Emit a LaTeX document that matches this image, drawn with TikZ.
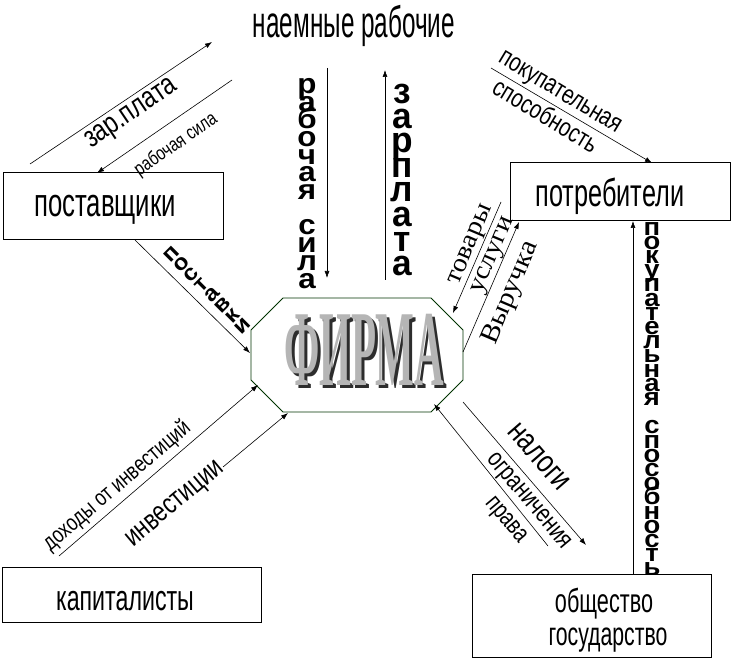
\documentclass[tikz,border=0pt]{standalone}
\usepackage{fontspec}
\usepackage{graphicx}
\usetikzlibrary{arrows.meta}
\setmainfont{Liberation Sans}
\newfontfamily\nb{Liberation Sans}[FakeStretch=0.65]
\newfontfamily\nl{Liberation Sans}[FakeStretch=0.78]
\newfontfamily\ser{Liberation Serif}[FakeStretch=1.08]
\newfontfamily\ff{Liberation Serif Bold}[FakeStretch=0.38]
\newcommand\fs[2]{\fontsize{#1}{#2}\selectfont}
\newcommand\vstk[3]{\scalebox{#1}[1]{\vbox{\baselineskip=#2\relax\lineskiplimit=-1000pt\relax\lineskip=0pt\relax\halign{\hfil##\hfil\cr#3\crcr}}}}
\newcommand\firmword{ФИРМА}
\tikzset{
  arr/.style={draw=black, line width=0.6pt, -{Latex[length=7pt,width=5pt]}},
  box/.style={draw=black, line width=1pt, rectangle, fill=white, inner sep=0pt},
  lbl/.style={inner sep=0pt, anchor=center},
  btext/.style={inner sep=0pt, anchor=base},
  stackcol/.style={inner sep=0pt, anchor=north},
  firmline/.style={draw=black!60!green!50!black, line width=0.8pt, fill=white},
  firmtext/.style={inner sep=0pt, anchor=base, font=\ff\fs{108}{108}},
}
\begin{document}
\begin{tikzpicture}[x=1pt,y=-1pt]
\useasboundingbox (0,0) rectangle (732,658);
\fill[white] (0,0) rectangle (732,658);

% boxes
\node[box, minimum width=220pt, minimum height=67pt] (post) at (113,206.5) {};
\node[btext, font=\nb\fs{39.6}{40}] (postT) at (105,217) {поставщики};
\node[box, minimum width=220pt, minimum height=58pt] (potr) at (620,192) {};
\node[btext, font=\nb\fs{38.9}{40}] (potrT) at (610,207) {потребители};
\node[box, minimum width=259pt, minimum height=55pt] (kap) at (131.5,594.5) {};
\node[btext, font=\nb\fs{35.7}{36}] (kapT) at (125,610) {капиталисты};
\node[box, minimum width=239pt, minimum height=83pt] (obsh) at (591.5,615.5) {};
\node[btext, font=\nb\fs{33.3}{34}] (obshT1) at (604,612) {общество};
\node[btext, font=\nb\fs{32.7}{34}] (obshT2) at (608,645) {государство};

\node[btext, font=\nb\fs{44}{44}] (naem) at (354,38) {\scalebox{0.85}[1]{наемные рабочие}};

% firm
\draw[firmline] (283,298) -- (431,298) -- (463,330) -- (463,380) -- (431,412) -- (283,412) -- (251,380) -- (251,330) -- cycle;
\node[firmtext, text=gray!35!black] (firmshadow) at (367,388) {\firmword};
\node[firmtext, text=gray!58] (firm) at (364,385) {\firmword};

% coordinates
\coordinate (a1s) at (30,164);  \coordinate (a1e) at (212,42);
\coordinate (a2s) at (232,80);  \coordinate (a2e) at (97,173);
\coordinate (a3s) at (135,240); \coordinate (a3e) at (250,353);
\coordinate (a4s) at (327,68);  \coordinate (a4e) at (327,278);
\coordinate (a5s) at (385,280); \coordinate (a5e) at (385,70);
\coordinate (a6s) at (491,68);  \coordinate (a6e) at (652,163);
\coordinate (a7s) at (501,202); \coordinate (a7e) at (453,313);
\coordinate (a8s) at (463,352); \coordinate (a8e) at (519,222);
\coordinate (a9s) at (633,574); \coordinate (a9e) at (633,221);
\coordinate (a10s) at (59,556); \coordinate (a10e) at (258,385);
\coordinate (a11s) at (223,467); \coordinate (a11e) at (288,413);
\coordinate (a12s) at (463,402); \coordinate (a12e) at (586,545);
\coordinate (a13s) at (548,546); \coordinate (a13e) at (434,404);

\foreach \i in {1,...,13} \draw[arr] (a\i s) -- (a\i e);

% diagonal labels
\node[lbl, rotate=34, font=\nl\fs{30}{30}] (lzp) at (132,115) {зар.плата};
\node[lbl, rotate=34.6, font=\nl\fs{19.5}{20}] (lrs) at (176,145) {рабочая сила};
\node[lbl, rotate=-31, font=\nl\fs{26}{26}] (lpok) at (559,94) {покупательная};
\node[lbl, rotate=-31, font=\nl\fs{26}{26}] (lspo) at (546,115) {способность};
\node[lbl, rotate=40.7, font=\nl\fs{23}{23}] (ldoh) at (117,486) {доходы от инвестиций};
\node[lbl, rotate=40, font=\nl\fs{28.5}{28}] (linv) at (176,505) {инвестиции};
\node[lbl, rotate=-49, font=\nl\fs{32}{31}] (lnal) at (539,457) {налоги};
\node[lbl, rotate=-50, font=\nl\fs{25.8}{26}] (logr) at (528,502) {ограничения};
\node[lbl, rotate=-50, font=\nl\fs{25}{25}] (lpra) at (505,521) {права};

% serif labels
\node[lbl, rotate=67, font=\ser\fs{26}{26}] (ltov) at (472,245) {товары};
\node[lbl, rotate=67, font=\ser\fs{26}{26}] (lusl) at (494,256) {услуги};
\node[lbl, rotate=67, font=\ser\fs{27}{27}] (lvyr) at (511,293) {Выручка};

% stacked columns
\node[stackcol, font=\bfseries\fs{28}{17.7}] (srs) at (307,78)
  {\vstk{1.12}{17.7pt}{р\cr а\cr б\cr о\cr ч\cr а\cr я\cr ~\cr с\cr и\cr л\cr а}};
\node[stackcol, font=\bfseries\fs{36}{25}] (szp) at (402,84)
  {\vstk{0.98}{24.6pt}{з\cr а\cr р\cr п\cr л\cr а\cr т\cr а}};
\node[stackcol, font=\bfseries\fs{24.5}{14.24}] (spok) at (652,222)
  {\vstk{1.12}{14.2pt}{п\cr о\cr к\cr у\cr п\cr а\cr т\cr е\cr л\cr ь\cr н\cr а\cr я\cr ~\cr с\cr п\cr о\cr с\cr о\cr б\cr н\cr о\cr с\cr т\cr ь}};
\node[inner sep=0pt, anchor=center, rotate=45, font=\bfseries\fs{22}{14.5}] (spost) at (207,290)
  {\vstk{1.1}{14.5pt}{п\cr о\cr с\cr т\cr а\cr в\cr к\cr и}};
\end{tikzpicture}
\end{document}
